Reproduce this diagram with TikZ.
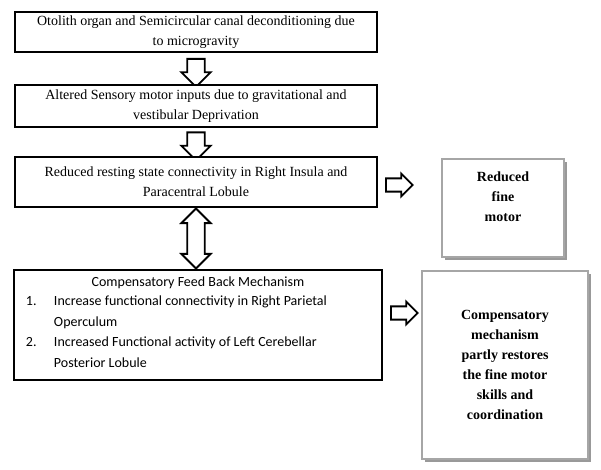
\documentclass[tikz,border=0pt]{standalone}
\usepackage{fontspec}
\usepackage{array}
\setmainfont{Liberation Serif}
\newfontfamily\calfont{Carlito}
\usetikzlibrary{positioning}
\usetikzlibrary{shapes.arrows}
\usetikzlibrary{shadows}

\begin{document}
\begin{tikzpicture}
    [%%%%%%%%%%%%%%%%%%%%%%%%%%%%%%
        x=0.75pt, y=-0.75pt,
        flow/.style={rectangle,draw=black,thick,align=center,inner sep=2pt,
            font=\fontsize{10.5}{15}\selectfont},
        result/.style={rectangle,draw=gray!70,line width=1.5pt,fill=white,
            drop shadow={shadow xshift=2.5pt,shadow yshift=-2.5pt,fill=gray!80,opacity=1}},
        down/.style={single arrow,draw=black,line width=1.4pt,fill=white,shape border rotate=270,
            minimum width=22pt,minimum height=21pt,inner sep=4.5pt,single arrow head extend=3.5pt},
        right/.style={single arrow,draw=black,line width=1.4pt,fill=white,
            minimum width=17pt,minimum height=20pt,inner sep=3.5pt,single arrow head extend=3pt},
        both/.style={double arrow,draw=black,line width=1.4pt,fill=white,shape border rotate=90,
            minimum width=22pt,minimum height=45pt,inner sep=4.5pt,double arrow head extend=3.5pt}
    ]%%%%%%%%%%%%%%%%%%%%%%%%%%%%%%
\useasboundingbox (0,0) rectangle (601,469);

\node[down] (arrA) at (196,68.5) {};
\node[down] (arrB) at (196,142) {};
\node[both] (arrC) at (196,238.5) {};
\node[right] (arrD) at (396,185) {};
\node[right] (arrE) at (401,313) {};

\node[flow,fill=white,minimum width=362*0.75pt,minimum height=40*0.75pt] (otolith) at (196,32)
    {Otolith organ and Semicircular canal deconditioning due\\to microgravity};
\node[flow,fill=white,minimum width=362*0.75pt,minimum height=42*0.75pt] (altered) at (196,106)
    {Altered Sensory motor inputs due to gravitational and\\vestibular Deprivation};
\node[flow,fill=white,minimum width=362*0.75pt,minimum height=50*0.75pt] (reduced) at (196,182)
    {Reduced resting state connectivity in Right Insula and\\Paracentral Lobule};
\node[flow,fill=white,minimum width=366*0.75pt,minimum height=110*0.75pt,
    font=\calfont\fontsize{10.5}{15.5}\selectfont] (feedback) at (198,325)
    {Compensatory Feed Back Mechanism\\[1pt]
     \begin{tabular}{@{\hspace{7pt}}>{\raggedright}p{21pt}@{}>{\raggedright\arraybackslash}p{232pt}@{\hspace{12pt}}}
     1. & Increase functional connectivity in Right Parietal Operculum\\[1pt]
     2. & Increased Functional activity of Left Cerebellar Posterior Lobule
     \end{tabular}};

\node[result,minimum width=122*0.75pt,minimum height=98*0.75pt,
    label={[anchor=north,yshift=-7pt,align=center,font=\bfseries\fontsize{10.5}{15}\selectfont]north:Reduced\\fine\\motor}]
    (finemotor) at (503,208) {};
\node[result,minimum width=166*0.75pt,minimum height=188*0.75pt,align=center,
    font=\bfseries\fontsize{10.5}{15}\selectfont] (restore) at (505,365)
    {Compensatory\\mechanism\\partly restores\\the fine motor\\skills and\\coordination};

\end{tikzpicture}
\end{document}
